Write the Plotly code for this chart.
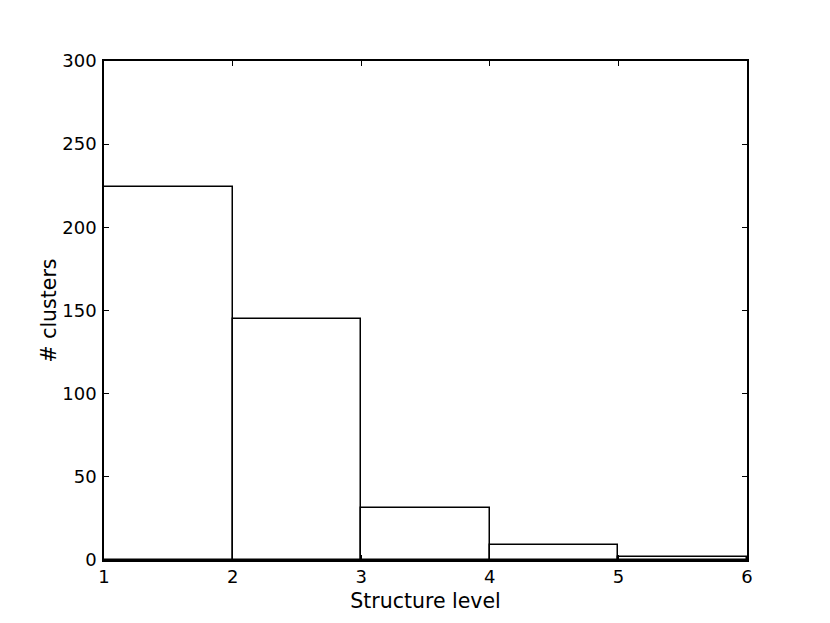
import plotly.graph_objects as go

bin_edges = [1, 2, 3, 4, 5, 6]
counts = [224, 145, 31, 9, 2]
x_ticks = [1, 2, 3, 4, 5, 6]
y_ticks = [0, 50, 100, 150, 200, 250, 300]

centers = [(a + b) / 2 for a, b in zip(bin_edges[:-1], bin_edges[1:])]
widths = [b - a for a, b in zip(bin_edges[:-1], bin_edges[1:])]

fig = go.Figure(go.Bar(
    x=centers, y=counts, width=widths,
    marker=dict(color="white", line=dict(color="black", width=1.5)),
    showlegend=False,
))

font = "DejaVu Sans"
axis_common = dict(
    showline=True, linecolor="black", linewidth=1.5, mirror="ticks",
    ticks="inside", ticklen=5, tickwidth=1, tickcolor="black",
    showgrid=False, zeroline=False,
    tickfont=dict(family=font, size=18, color="black"),
)

fig.update_layout(
    width=822, height=615,
    margin=dict(l=96, r=83, t=53, b=63),
    paper_bgcolor="white", plot_bgcolor="white",
    bargap=0,
    xaxis=dict(range=[1, 6], tickvals=x_ticks, ticktext=[str(v) for v in x_ticks],
               title=dict(text="Structure level", font=dict(family=font, size=20.5, color="black"), standoff=7),
               ticklabelstandoff=0, **axis_common),
    yaxis=dict(range=[0, 300], tickvals=y_ticks, ticktext=[str(v) for v in y_ticks],
               title=dict(text="# clusters", font=dict(family=font, size=20.5, color="black"), standoff=0),
               ticklabelstandoff=2, **axis_common),
)

fig.write_html("out.html")
